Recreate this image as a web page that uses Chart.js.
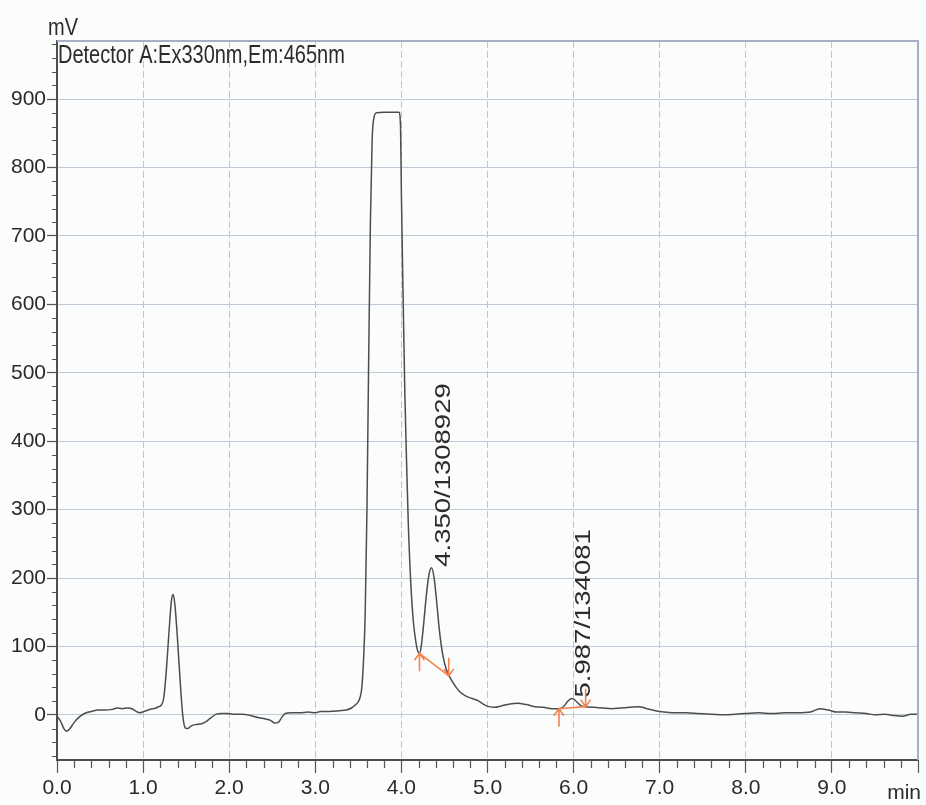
<!DOCTYPE html>
<html><head><meta charset="utf-8">
<script src="https://cdn.jsdelivr.net/npm/chart.js@4.4.1/dist/chart.umd.min.js"></script>
<style>html,body{margin:0;padding:0;background:#fbfdfd;} #wrap{width:926px;height:805px;position:relative;}</style>
</head><body><div id="wrap"><canvas id="c"></canvas></div>
<script>
const timeMin = [0.00,0.04,0.08,0.11,0.15,0.20,0.26,0.32,0.40,0.48,0.56,0.64,0.70,0.76,0.82,0.87,0.92,0.96,1.01,1.06,1.11,1.15,1.18,1.21,1.24,1.27,1.30,1.33,1.35,1.37,1.40,1.43,1.46,1.49,1.52,1.56,1.62,1.68,1.73,1.79,1.85,1.91,1.97,2.05,2.15,2.25,2.33,2.42,2.48,2.53,2.57,2.61,2.65,2.72,2.82,2.92,3.00,3.06,3.16,3.28,3.36,3.42,3.47,3.51,3.54,3.56,3.58,3.60,3.62,3.64,3.66,3.68,3.71,3.80,3.90,3.97,3.99,4.00,4.02,4.04,4.06,4.08,4.11,4.14,4.17,4.19,4.21,4.23,4.26,4.29,4.32,4.35,4.38,4.41,4.44,4.48,4.52,4.56,4.61,4.67,4.74,4.82,4.90,4.96,5.02,5.08,5.16,5.26,5.35,5.45,5.55,5.65,5.75,5.83,5.89,5.94,5.98,6.02,6.08,6.14,6.24,6.34,6.44,6.55,6.65,6.76,6.85,6.95,7.05,7.15,7.30,7.45,7.60,7.75,7.88,8.00,8.15,8.30,8.45,8.60,8.75,8.86,8.96,9.06,9.16,9.27,9.40,9.50,9.62,9.72,9.82,9.92,10.00];
const signalMv = [-2,-9,-20,-24,-20,-11,-3,2,5,7,7,8,10,9,10,9,5,3,5,7,9,10,12,14,25,65,120,168,176,160,110,50,0,-19,-20,-16,-14,-13,-10,-4,1,2,2,1,1,-1,-4,-6,-8,-12,-11,-4,2,3,3,4,3,5,5,6,7,10,15,22,40,80,150,300,520,720,840,872,880,881,881,881,860,760,610,470,370,280,190,135,105,93,90,100,135,175,205,215,200,165,125,88,67,56,45,35,28,24,20,15,12,11,13,16,17,15,12,11,9,9,13,21,24,21,14,12,11,10,9,10,11,12,9,6,4,3,3,2,1,0,1,2,3,2,3,3,4,9,7,4,4,3,2,0,1,-1,-2,1,1];

const xTickValues = [0,1,2,3,4,5,6,7,8,9,10];
const xTickLabels = ['0.0','1.0','2.0','3.0','4.0','5.0','6.0','7.0','8.0','9.0',''];
const yTickValues = [0,100,200,300,400,500,600,700,800,900];
const yTickLabels = ['0','100','200','300','400','500','600','700','800','900'];

const peakTimes = [4.350, 5.987];
const peakHeights = [215, 24];
const peakLabels = ['4.350/1308929', '5.987/134081'];
const baseStartTime = [4.21, 5.83];
const baseStartMv = [90, 9];
const baseEndTime = [4.55, 6.14];
const baseEndMv = [57, 12];

const detectorLabel = 'Detector A:Ex330nm,Em:465nm';
const yUnitLabel = 'mV';
const xUnitLabel = 'min';

const FONT = "'Liberation Sans', Arial, sans-serif";
const points = timeMin.map((t, i) => ({x: t, y: signalMv[i]}));

const deco = {
  id: 'deco',
  beforeDraw(chart) {
    const ctx = chart.ctx;
    ctx.save();
    ctx.fillStyle = '#fbfdfd';
    ctx.fillRect(0, 0, chart.width, chart.height);
    ctx.restore();
  },
  afterDraw(chart) {
    const {ctx, chartArea: a, scales: {x, y}} = chart;
    ctx.save();
    // top & right frame
    ctx.strokeStyle = '#a7b0c2';
    ctx.lineWidth = 2;
    ctx.beginPath();
    ctx.moveTo(a.left, a.top); ctx.lineTo(a.right, a.top); ctx.lineTo(a.right, a.bottom);
    ctx.stroke();
    // minor ticks
    ctx.strokeStyle = '#555';
    ctx.lineWidth = 1.2;
    ctx.beginPath();
    for (let k = 1; k < 50; k++) {
      if (k % 5 === 0) continue;
      const px = Math.round(x.getPixelForValue(k / 5)) + 0.5;
      ctx.moveTo(px, a.bottom); ctx.lineTo(px, a.bottom + 8);
    }
    for (let v = -60; v <= 980; v += 20) {
      if (v % 100 === 0) continue;
      const py = Math.round(y.getPixelForValue(v)) + 0.5;
      ctx.moveTo(a.left - 5, py); ctx.lineTo(a.left, py);
    }
    ctx.stroke();

    // baseline markers
    ctx.strokeStyle = '#f3824e';
    ctx.lineWidth = 1.6;
    for (let i = 0; i < baseStartTime.length; i++) {
      const x1 = x.getPixelForValue(baseStartTime[i]), y1 = y.getPixelForValue(baseStartMv[i]);
      const x2 = x.getPixelForValue(baseEndTime[i]), y2 = y.getPixelForValue(baseEndMv[i]);
      ctx.beginPath();
      ctx.moveTo(x1, y1); ctx.lineTo(x2, y2);
      // up arrow at start
      ctx.moveTo(x1, y1 + 18); ctx.lineTo(x1, y1);
      ctx.moveTo(x1 - 5, y1 + 7); ctx.lineTo(x1, y1); ctx.lineTo(x1 + 5, y1 + 7);
      // down arrow at end
      ctx.moveTo(x2, y2 - 18); ctx.lineTo(x2, y2);
      ctx.moveTo(x2 - 5, y2 - 7); ctx.lineTo(x2, y2); ctx.lineTo(x2 + 5, y2 - 7);
      ctx.stroke();
    }

    // peak annotations
    ctx.fillStyle = '#2b2b2b';
    ctx.font = '22px ' + FONT;
    ctx.textAlign = 'left';
    ctx.textBaseline = 'alphabetic';
    for (let i = 0; i < peakTimes.length; i++) {
      const px = x.getPixelForValue(peakTimes[i]) + 18;
      const py = y.getPixelForValue(peakHeights[i]) - 1;
      ctx.save();
      ctx.translate(px, py);
      ctx.rotate(-Math.PI / 2);
      ctx.scale(1.25, 1);
      ctx.fillText(peakLabels[i], 0, 0);
      ctx.restore();
    }

    // header texts
    ctx.font = '20px ' + FONT;
    ctx.save();
    ctx.translate(a.left + 1, a.top + 22);
    ctx.scale(1, 1.25);
    ctx.fillText(detectorLabel, 0, 0);
    ctx.restore();
    ctx.save();
    ctx.translate(a.left - 9, a.top - 6);
    ctx.scale(1, 1.15);
    ctx.fillText(yUnitLabel, 0, 0);
    ctx.restore();
    ctx.font = '21px ' + FONT;
    ctx.textAlign = 'right';
    ctx.fillText(xUnitLabel, a.right + 3, a.bottom + 39);
    ctx.restore();
  }
};

new Chart(document.getElementById('c'), {
  type: 'line',
  data: {
    datasets: [{
      data: points,
      borderColor: '#4d4d4d',
      borderWidth: 1.5,
      pointRadius: 0,
      fill: false,
      cubicInterpolationMode: 'monotone'
    }]
  },
  options: {
    responsive: true,
    maintainAspectRatio: false,
    animation: false,
    layout: {padding: {top: 41, right: 8, left: 0, bottom: 0}},
    plugins: {legend: {display: false}, tooltip: {enabled: false}},
    scales: {
      x: {
        type: 'linear',
        min: 0, max: 10,
        afterBuildTicks: s => { s.ticks = xTickValues.map(v => ({value: v})); },
        afterFit: s => { s.height = 45; },
        ticks: {
          autoSkip: false, maxRotation: 0, padding: 3,
          color: '#2a2a2a',
          font: {family: FONT, size: 21},
          callback: (v, i) => xTickLabels[i]
        },
        grid: {
          color: c => (c.tick && (c.tick.value === 0 || c.tick.value === 10)) ? 'rgba(0,0,0,0)' : '#bcc4d6',
          lineWidth: 1,
          tickColor: '#555',
          tickLength: 13,
          tickWidth: 1.2
        },
        border: {color: '#4d4d4d', width: 2, dash: [7, 3]}
      },
      y: {
        type: 'linear',
        min: -66, max: 985,
        afterBuildTicks: s => { s.ticks = yTickValues.map(v => ({value: v})); },
        afterFit: s => { s.width = 57; },
        ticks: {
          autoSkip: false, padding: 1,
          color: '#2a2a2a',
          font: {family: FONT, size: 21},
          callback: (v, i) => yTickLabels[i]
        },
        grid: {
          color: '#c2c8d8',
          lineWidth: 1,
          tickColor: '#555',
          tickLength: 10,
          tickWidth: 1.2
        },
        border: {color: '#4d4d4d', width: 2}
      }
    }
  },
  plugins: [deco]
});
</script>
</body></html>
